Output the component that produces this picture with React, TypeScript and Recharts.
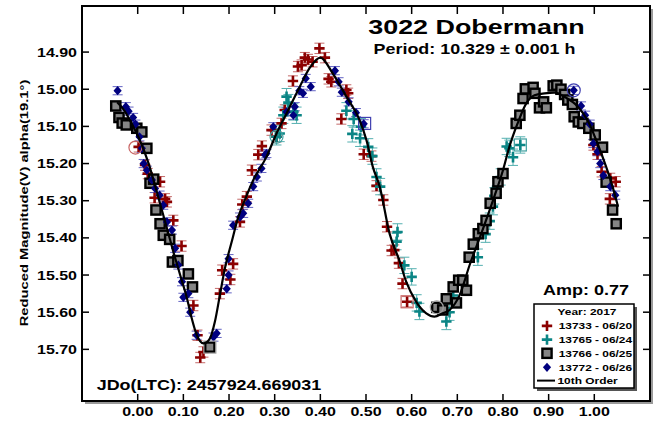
import React from "react";
import { ScatterChart, Scatter, XAxis, YAxis, ErrorBar, ReferenceArea } from "recharts";

// rotational phase vs reduced magnitude, 4 sessions + Fourier fit
const phaseTicks = [0, 0.1, 0.2, 0.3, 0.4, 0.5, 0.6, 0.7, 0.8, 0.9, 1.0];
const magTicks = [14.9, 15.0, 15.1, 15.2, 15.3, 15.4, 15.5, 15.6, 15.7];

const sessionNames = ["13733 - 06/20", "13765 - 06/24", "13766 - 06/25", "13772 - 06/26"];

// [phase, mag]
const s13733 = [
  [0.002, 15.155], [0.016, 15.204], [0.022, 15.227], [0.037, 15.292], [0.049, 15.249], [0.06, 15.295],
  [0.064, 15.303], [0.078, 15.353], [0.096, 15.422], [0.122, 15.582], [0.131, 15.662], [0.137, 15.722],
  [0.144, 15.707], [0.18, 15.55], [0.185, 15.487], [0.203, 15.512], [0.209, 15.47], [0.224, 15.357],
  [0.229, 15.31], [0.239, 15.289], [0.25, 15.218], [0.264, 15.176], [0.272, 15.153], [0.293, 15.11],
  [0.304, 15.128], [0.315, 15.092], [0.322, 15.056], [0.34, 14.978], [0.351, 14.939], [0.359, 14.935],
  [0.366, 14.915], [0.373, 14.92], [0.383, 14.926], [0.398, 14.89], [0.41, 14.915], [0.418, 14.972],
  [0.424, 14.98], [0.446, 15.08], [0.457, 15.002], [0.461, 15.011], [0.495, 15.175], [0.512, 15.18],
  [0.523, 15.26], [0.538, 15.298], [0.546, 15.37], [0.556, 15.434], [0.562, 15.433], [0.572, 15.468],
  [0.58, 15.523], [0.59, 15.572], [0.998, 15.15], [1.007, 15.175], [1.016, 15.222], [1.035, 15.24],
  [1.047, 15.249], [1.034, 15.295],
];

const s13765 = [
  [0.304, 15.128], [0.311, 15.119], [0.319, 15.07], [0.326, 15.02], [0.33, 15.036], [0.341, 15.061],
  [0.348, 15.07], [0.457, 15.058], [0.47, 15.12], [0.473, 15.08], [0.489, 15.101], [0.487, 15.132],
  [0.505, 15.155], [0.514, 15.18], [0.523, 15.236], [0.531, 15.262], [0.567, 15.41], [0.569, 15.384],
  [0.584, 15.474], [0.6, 15.505], [0.611, 15.575], [0.617, 15.598], [0.676, 15.625], [0.683, 15.6],
  [0.691, 15.555], [0.745, 15.452], [0.762, 15.39], [0.771, 15.355], [0.778, 15.316], [0.781, 15.287],
  [0.787, 15.262], [0.795, 15.236], [0.808, 15.154], [0.814, 15.159], [0.822, 15.183], [0.838, 15.15],
];

const s13766 = [
  [-0.048, 15.045], [-0.041, 15.076], [-0.034, 15.091], [-0.025, 15.096], [-0.002, 15.105], [0.009, 15.115],
  [0.02, 15.159], [0.027, 15.253], [0.035, 15.242], [0.04, 15.325], [0.049, 15.362], [0.056, 15.393],
  [0.07, 15.404], [0.076, 15.465], [0.088, 15.461], [0.111, 15.497], [0.12, 15.532], [0.158, 15.694],
  [0.655, 15.587], [0.668, 15.594], [0.676, 15.564], [0.691, 15.532], [0.698, 15.575], [0.703, 15.514],
  [0.712, 15.514], [0.72, 15.541], [0.726, 15.452], [0.735, 15.417], [0.746, 15.389], [0.756, 15.375],
  [0.763, 15.353], [0.772, 15.307], [0.785, 15.28], [0.789, 15.249], [0.8, 15.227], [0.829, 15.092],
  [0.837, 15.07], [0.844, 15.025], [0.849, 14.999], [0.866, 14.995], [0.87, 15.011], [0.88, 15.05],
  [0.889, 15.034], [0.895, 15.05], [0.91, 14.991], [0.918, 14.989], [0.927, 15.0], [0.935, 15.014],
  [0.942, 15.029], [0.952, 15.041], [0.956, 15.074], [0.965, 15.088], [0.975, 15.092], [0.988, 15.105],
  [1.002, 15.123], [1.018, 15.156], [1.026, 15.25], [1.04, 15.325], [1.048, 15.362],
];

const s13772 = [
  [-0.044, 15.004], [-0.026, 15.047], [-0.02, 15.059], [-0.01, 15.076], [-0.005, 15.094], [0.004, 15.128],
  [0.009, 15.159], [0.013, 15.2], [0.02, 15.218], [0.031, 15.244], [0.038, 15.267], [0.048, 15.285],
  [0.056, 15.312], [0.064, 15.357], [0.075, 15.379], [0.082, 15.428], [0.089, 15.473], [0.097, 15.518],
  [0.1, 15.56], [0.111, 15.55], [0.115, 15.6], [0.129, 15.662], [0.166, 15.667], [0.173, 15.657],
  [0.195, 15.537], [0.199, 15.5], [0.199, 15.456], [0.209, 15.366], [0.224, 15.344], [0.231, 15.334],
  [0.242, 15.307], [0.253, 15.262], [0.261, 15.236], [0.271, 15.213], [0.279, 15.177], [0.282, 15.173],
  [0.297, 15.101], [0.326, 15.061], [0.341, 15.07], [0.344, 15.047], [0.354, 15.004], [0.362, 15.011],
  [0.368, 14.971], [0.379, 14.993], [0.432, 14.95], [0.44, 14.98], [0.447, 15.008], [0.462, 15.034],
  [0.478, 15.063], [0.495, 15.093], [0.955, 15.003], [0.971, 15.045], [0.98, 15.07], [0.99, 15.094],
  [0.998, 15.146], [1.007, 15.168], [1.013, 15.2], [1.02, 15.232], [1.035, 15.262], [1.046, 15.285],
];

// typical photometric error per session (mag)
const sessionErr = [0.014, 0.022, 0.011, 0.011];

// first / last observation of each session (same order as sessionNames)
const sessionStart = [[-0.005, 15.157], [0.304, 15.128], [0.655, 15.587], [0.955, 15.003]];
const sessionEnd = [[0.59, 15.572], [0.838, 15.15], [0.158, 15.694], [0.497, 15.092]];

// 10th order Fourier fit, sampled
const fitCurve = [
  [-0.045, 15.035], [-0.03, 15.056], [-0.01, 15.1], [0.002, 15.13], [0.024, 15.2], [0.045, 15.29],
  [0.064, 15.374], [0.078, 15.437], [0.093, 15.5], [0.108, 15.563], [0.118, 15.615], [0.129, 15.66],
  [0.144, 15.684], [0.158, 15.671], [0.169, 15.626], [0.18, 15.554], [0.191, 15.482], [0.206, 15.41],
  [0.22, 15.345], [0.235, 15.297], [0.253, 15.245], [0.282, 15.182], [0.304, 15.119], [0.326, 15.065],
  [0.355, 14.993], [0.377, 14.942], [0.4, 14.915], [0.427, 14.957], [0.457, 15.02], [0.486, 15.083],
  [0.501, 15.137], [0.515, 15.209], [0.53, 15.262], [0.552, 15.39], [0.574, 15.464], [0.588, 15.518],
  [0.61, 15.572], [0.632, 15.603], [0.65, 15.612], [0.668, 15.603], [0.683, 15.594], [0.705, 15.554],
  [0.727, 15.473], [0.752, 15.39], [0.781, 15.289], [0.8, 15.218], [0.814, 15.155], [0.832, 15.092],
  [0.851, 15.038], [0.869, 15.016], [0.891, 15.011], [0.913, 15.009], [0.934, 15.02], [0.964, 15.047],
  [0.985, 15.083], [1.007, 15.146], [1.026, 15.209], [1.04, 15.262], [1.052, 15.316],
];

const W = 654;
const H = 424;
const PLOT_L = 82;
const PLOT_T = 6;
const PLOT_R = 650;
const PLOT_B = 401;
const X_DOMAIN: [number, number] = [-0.122, 1.122];
const Y_DOMAIN: [number, number] = [14.776, 15.839];

const FONT = "'Liberation Sans', Arial, Helvetica, sans-serif";
const STRETCH = 1.28; // the plot font is drawn wide

const COLORS = ["#8b0000", "#0b8585", "#7a7a7a", "#00007f"];
const ERR_COLORS = ["#c46a6a", "#55b0b0", "#a8a8a8", "#6464c4"];
const RING_COLORS = ["#c86464", "#40a0a0", "#a0a0a0", "#4040b0"];

const toPts = (arr: number[][], err: number) => arr.map(([x, y]) => ({ x, y, e: err }));

function WideText({ x, y, size, anchor = "start", sx = STRETCH, rotate = 0, children }: any) {
  const rot = rotate ? ` rotate(${rotate})` : "";
  return (
    <text
      transform={`translate(${x},${y})${rot} scale(${sx},1)`}
      fontSize={size}
      fontWeight="bold"
      fontFamily={FONT}
      textAnchor={anchor}
      fill="#000"
    >
      {children}
    </text>
  );
}

// marker shapes
function Plus({ cx, cy, color }: any) {
  return (
    <path
      d={`M${cx - 5.2},${cy}H${cx + 5.2}M${cx},${cy - 5.2}V${cy + 5.2}`}
      stroke={color}
      strokeWidth={2.6}
      fill="none"
    />
  );
}

function Square({ cx, cy }: any) {
  return <rect x={cx - 4.6} y={cy - 4.6} width={9.2} height={9.2} fill="#858585" stroke="#000" strokeWidth={2.4} />;
}

function Diamond({ cx, cy, color }: any) {
  return <path d={`M${cx},${cy - 4.6}L${cx + 4.1},${cy}L${cx},${cy + 4.6}L${cx - 4.1},${cy}Z`} fill={color} />;
}

function renderMarker(i: number) {
  return (p: any) => {
    if (p.cx == null) return <g />;
    if (i === 0 || i === 1) return <Plus cx={p.cx} cy={p.cy} color={COLORS[i]} />;
    if (i === 2) return <Square cx={p.cx} cy={p.cy} />;
    return <Diamond cx={p.cx} cy={p.cy} color={COLORS[i]} />;
  };
}

const ringColorOf = (idx: number) => RING_COLORS[idx];

function XTick({ x, y, payload }: any) {
  return (
    <g>
      <line x1={x} x2={x} y1={y} y2={y - 7} stroke="#000" strokeWidth={1.5} />
      <line x1={x} x2={x} y1={PLOT_T} y2={PLOT_T + 8} stroke="#000" strokeWidth={1.5} />
      <WideText x={x} y={y + 15} size={12.5} anchor="middle">
        {Number(payload.value).toFixed(2)}
      </WideText>
    </g>
  );
}

function YTick({ x, y, payload }: any) {
  return (
    <g>
      <line x1={x} x2={x + 7} y1={y} y2={y} stroke="#000" strokeWidth={1.5} />
      <line x1={PLOT_R - 7} x2={PLOT_R} y1={y} y2={y} stroke="#000" strokeWidth={1.5} />
      <WideText x={x - 5} y={y + 4.5} size={12.5} anchor="end">
        {Number(payload.value).toFixed(2)}
      </WideText>
    </g>
  );
}

const series = [s13733, s13765, s13766, s13772];

export default function App() {
  const legendRows = [329.3, 343, 356.7, 370.7];
  return (
    <div style={{ position: "absolute", left: 0, top: 0, width: W, height: H, background: "#fff" }}>
      <ScatterChart
        width={W}
        height={H}
        margin={{ top: PLOT_T, right: W - PLOT_R, bottom: 0, left: 0 }}
      >
        <XAxis
          type="number"
          dataKey="x"
          domain={X_DOMAIN}
          ticks={phaseTicks}
          interval={0}
          allowDataOverflow
          axisLine={false}
          tickLine={false}
          tickSize={0}
          tickMargin={0}
          height={H - PLOT_B}
          tick={(p: any) => <XTick {...p} />}
        />
        <YAxis
          type="number"
          dataKey="y"
          reversed
          domain={Y_DOMAIN}
          ticks={magTicks}
          interval={0}
          allowDataOverflow
          axisLine={false}
          tickLine={false}
          tickSize={0}
          tickMargin={0}
          width={PLOT_L}
          tick={(p: any) => <YTick {...p} />}
        />
        {series.map((s, i) => (
          <Scatter
            key={sessionNames[i]}
            name={sessionNames[i]}
            data={toPts(s, sessionErr[i])}
            shape={renderMarker(i)}
            isAnimationActive={false}
          >
            <ErrorBar dataKey="e" direction="y" width={5} stroke={ERR_COLORS[i]} strokeWidth={1} />
          </Scatter>
        ))}
        <Scatter
          data={toPts(sessionStart, 0)}
          isAnimationActive={false}
          shape={(p: any) =>
            p.cx == null ? <g /> : (
              <circle cx={p.cx} cy={p.cy} r={6.5} fill="none" stroke={ringColorOf(p.index)} strokeWidth={1.2} />
            )
          }
        />
        <Scatter
          data={toPts(sessionEnd, 0)}
          isAnimationActive={false}
          shape={(p: any) =>
            p.cx == null ? <g /> : (
              <rect x={p.cx - 6} y={p.cy - 6} width={12} height={12} fill="none" stroke={ringColorOf(p.index)} strokeWidth={1.2} />
            )
          }
        />
        <Scatter
          name="10th Order"
          data={toPts(fitCurve, 0)}
          line={{ stroke: "#000", strokeWidth: 2.2 }}
          lineType="joint"
          lineJointType="monotoneX"
          shape={() => <g />}
          isAnimationActive={false}
        />
        <ReferenceArea
          x1={X_DOMAIN[0]}
          x2={X_DOMAIN[1]}
          y1={Y_DOMAIN[0]}
          y2={Y_DOMAIN[1]}
          fill="none"
          stroke="#000"
          strokeWidth={2}
          ifOverflow="visible"
        />
      </ScatterChart>

      <svg width={W} height={H} style={{ position: "absolute", left: 0, top: 0, pointerEvents: "none" }}>
        {/* frame shadow */}
        <path d={`M${PLOT_R + 2},${PLOT_T + 3}V${PLOT_B + 2}H${PLOT_L + 3}`} stroke="#9a9a9a" strokeWidth={2} fill="none" />

        <WideText x={27.5} y={203} size={11.8} anchor="middle" rotate={-90} sx={1.25}>
          Reduced Magnitude(V) alpha(19.1°)
        </WideText>

        <WideText x={476.5} y={34.3} size={21} anchor="middle">
          3022 Dobermann
        </WideText>
        <WideText x={474.5} y={54} size={14} anchor="middle">
          Period: 10.329 ± 0.001 h
        </WideText>
        <WideText x={629} y={294.7} size={15} anchor="end" sx={1.2}>
          Amp: 0.77
        </WideText>
        <WideText x={96.7} y={390.3} size={14}>
          JDo(LTC): 2457924.669031
        </WideText>

        {/* legend */}
        <rect x={537} y={307} width={100} height={84} fill="#555" />
        <rect x={534} y={304} width={100} height={84} fill="#fff" stroke="#000" strokeWidth={1.5} />
        <WideText x={587} y={315.3} size={9.3} anchor="middle">
          Year: 2017
        </WideText>
        {sessionNames.map((name, i) => {
          const y = legendRows[i];
          const cy = y - 3.4;
          const cx = 547;
          return (
            <g key={name}>
              {i < 2 && <Plus cx={cx} cy={cy} color={COLORS[i]} />}
              {i === 2 && <Square cx={cx} cy={cy} />}
              {i === 3 && <Diamond cx={cx} cy={cy} color={COLORS[i]} />}
              <WideText x={558.7} y={y} size={9.3}>
                {name}
              </WideText>
            </g>
          );
        })}
        <line x1={537} x2={555} y1={380.6} y2={380.6} stroke="#000" strokeWidth={2} />
        <WideText x={557.5} y={384} size={9.3}>
          10th Order
        </WideText>
      </svg>
    </div>
  );
}
